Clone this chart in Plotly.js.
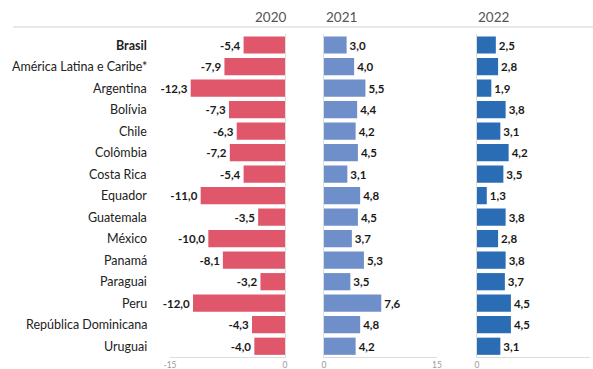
<!DOCTYPE html>
<html>
<head>
<meta charset="utf-8">
<script src="https://cdn.plot.ly/plotly-3.0.1.min.js"></script>
<style>html,body{margin:0;padding:0;background:#fff}#chart{width:593px;height:369px}</style>
</head>
<body>
<div id="chart"></div>
<script>
const countries = ["Brasil","América Latina e Caribe*","Argentina","Bolívia","Chile","Colômbia","Costa Rica","Equador","Guatemala","México","Panamá","Paraguai","Peru","República Dominicana","Uruguai"];
const years = ["2020","2021","2022"];
const v2020 = [-5.4,-7.9,-12.3,-7.3,-6.3,-7.2,-5.4,-11.0,-3.5,-10.0,-8.1,-3.2,-12.0,-4.3,-4.0];
const v2021 = [3.0,4.0,5.5,4.4,4.2,4.5,3.1,4.8,4.5,3.7,5.3,3.5,7.6,4.8,4.2];
const v2022 = [2.5,2.8,1.9,3.8,3.1,4.2,3.5,1.3,3.8,2.8,3.8,3.7,4.5,4.5,3.1];
const tickVals = [-15,0,15];

const fmt = v => v.toFixed(1).replace('.', ',');
const W = 593, H = 369;
const px = x => x / W, py = y => 1 - y / H;

const colors = ["#e0566a", "#6f8fcb", "#2a6db4"];
const series = [v2020, v2021, v2022];
const axes = [["x","y"],["x2","y2"],["x3","y3"]];

const traces = series.map((vals, i) => ({
  type: "bar", orientation: "h",
  x: vals, y: countries,
  xaxis: axes[i][0], yaxis: axes[i][1],
  marker: {color: colors[i]},
  text: vals.map(fmt), textposition: "outside", cliponaxis: false,
  textfont: {family: "Lato, sans-serif", size: 11.5, color: "#1a1a1a", weight: 700},
  hoverinfo: "skip"
}));

const yDomain = [py(357), py(34.25)];
const baseX = {showgrid: false, zeroline: false, showline: true, linecolor: "#dcdcdc", linewidth: 1,
  ticks: "", tickfont: {family: "Lato, sans-serif", size: 8.5, color: "#9a9a9a"}, fixedrange: true};
const baseY = {type: "category", categoryorder: "array", categoryarray: countries, range: [14.5, -0.5],
  domain: yDomain, showgrid: false, zeroline: false, showline: true, linecolor: "#dcdcdc",
  showticklabels: false, ticks: "", fixedrange: true};

const annotations = countries.map((c, i) => ({
  xref: "paper", yref: "y", x: px(149), y: c, xanchor: "right", yanchor: "middle",
  text: i === 0 ? "<b>" + c + "</b>" : c, showarrow: false,
  font: {family: "Lato, sans-serif", size: 12.5, color: "#222"}
}));
[[px(288), "right"], [px(324), "left"], [px(476), "left"]].forEach((p, i) => {
  annotations.push({xref: "paper", yref: "paper", x: p[0], y: py(17), xanchor: p[1], yanchor: "middle",
    text: years[i], showarrow: false, font: {family: "Lato, sans-serif", size: 13.5, color: "#555"}});
});

const layout = {
  width: W, height: H, margin: {l: 0, r: 0, t: 0, b: 0},
  paper_bgcolor: "#fff", plot_bgcolor: "#fff", showlegend: false, bargap: 0.2,
  xaxis: Object.assign({}, baseX, {domain: [px(170), px(285)], range: [-15, 0], anchor: "y",
    tickvals: tickVals, ticktext: tickVals.map(String)}),
  xaxis2: Object.assign({}, baseX, {domain: [px(324), px(437)], range: [0, 15], anchor: "y2",
    tickvals: tickVals, ticktext: tickVals.map(String)}),
  xaxis3: Object.assign({}, baseX, {domain: [px(477), px(590)], range: [0, 15], anchor: "y3",
    tickvals: tickVals, ticktext: tickVals.map(String)}),
  yaxis: Object.assign({}, baseY, {anchor: "x", side: "right"}),
  yaxis2: Object.assign({}, baseY, {anchor: "x2", side: "left"}),
  yaxis3: Object.assign({}, baseY, {anchor: "x3", side: "left"}),
  shapes: [{type: "line", xref: "paper", yref: "paper", x0: px(13), x1: 1, y0: py(27), y1: py(27),
    line: {color: "#e2e2e2", width: 1.5}}],
  annotations: annotations
};

Plotly.newPlot("chart", traces, layout, {displayModeBar: false, staticPlot: true});
</script>
</body>
</html>
